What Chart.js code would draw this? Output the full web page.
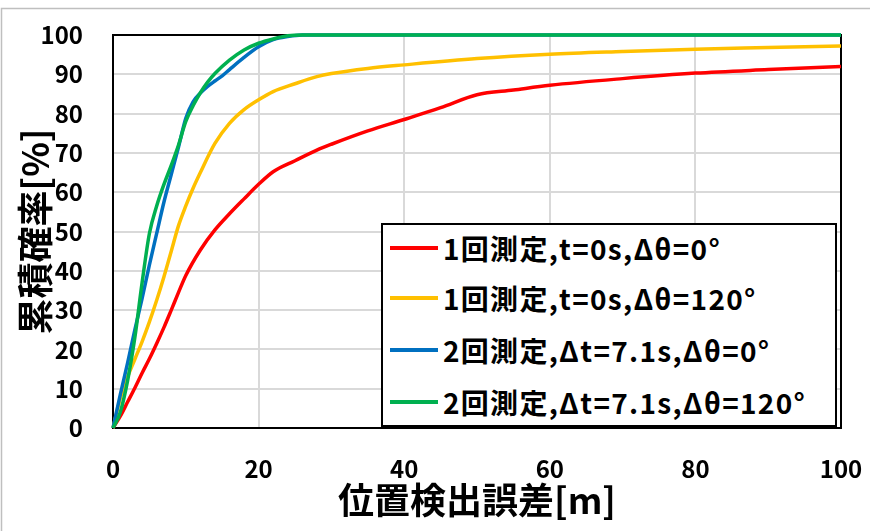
<!DOCTYPE html>
<html><head><meta charset="utf-8">
<script src="https://cdn.jsdelivr.net/npm/chart.js@4"></script>
<style>
html,body{margin:0;padding:0;background:#fff;}
#wrap{position:relative;width:870px;height:531px;overflow:hidden;}
#legend{position:absolute;left:381px;top:223px;width:452px;height:200px;border:2px solid #000;background:#fff;font-family:"Noto Sans CJK JP",sans-serif;font-weight:bold;font-size:28px;color:#000;letter-spacing:1.3px;}
.row{position:absolute;left:0;height:40px;display:flex;align-items:center;white-space:nowrap;}
.sw{width:48px;height:4px;margin-left:7px;margin-right:5px;}
</style></head>
<body>
<div id="wrap">
<canvas id="c" width="870" height="531"></canvas>
<div id="legend"></div>
</div>
<script>
const seriesLabels = ['1回測定,t=0s,Δθ=0°','1回測定,t=0s,Δθ=120°','2回測定,Δt=7.1s,Δθ=0°','2回測定,Δt=7.1s,Δθ=120°'];
const xTitle = '位置検出誤差[m]';
const yTitle = '累積確率[%]';

const xRed = [0,1,2,3,4,5,6,7,8,9,10,12,14,16,18,20,22,25,28,30,35,40,45,50,55,60,70,80,90,100];
const yRed = [0,3,6.6,10.2,14,17.6,21.5,25.6,30,34.5,38.8,45.3,50.4,54.5,58.3,62,65.2,68,70.7,72.2,75.6,78.5,81.5,84.8,86,87.2,88.9,90.3,91.2,92];

const xYellow = [0,1,2,3,4,5,6,7,8,9,10,11,12,14,16,18,20,22,25,28,30,35,40,50,60,70,80,90,100];
const yYellow = [0,7.5,13,17.5,22,27,32.5,38.5,45,51.5,56.5,61,65,72.4,77.5,81,83.5,85.6,87.6,89.4,90.2,91.5,92.4,94,95.1,95.8,96.4,96.8,97.2];

const xBlue = [0,1,2,3,4,5,6,7,8,9,10,11,12,13,14,15,16,18,20,22,24,26,100];
const yBlue = [0,8.5,16.5,25,33,41.5,49.5,57.5,64.5,71.5,78.8,83,85.2,86.9,88.3,89.6,91.2,94.3,97,98.8,99.6,100,100];

const xGreen = [0,1,2,3,4,5,6,7,8,9,10,11,12,13,14,16,18,20,22,24,26,100];
const yGreen = [0,4,12,23,37,49.5,56.5,62,66.8,72,78,82,85.3,88,90.2,93.6,96.2,97.9,99,99.8,100,100];

const colors = ['#ff0000','#ffc000','#0070c0','#00b050'];
const FAM = '"Noto Sans CJK JP", sans-serif';

function pts(xs, ys){ return xs.map((x,i)=>({x:x, y:ys[i]})); }
function ds(i, xs, ys){
  return {label:seriesLabels[i], data:pts(xs,ys), borderColor:colors[i], backgroundColor:colors[i],
    borderWidth:3.5, pointRadius:0, cubicInterpolationMode:'monotone', fill:false, clip:false,
    order: 3 - i};
}

const frame = {
  id:'frame',
  beforeDraw(c){
    const g=c.ctx; g.save();
    g.strokeStyle='#bfbfbf'; g.lineWidth=1.5; g.strokeRect(1.5,8.5,900,600);
    g.restore();
  },
  beforeDatasetsDraw(c){
    const g=c.ctx; const a=c.chartArea; g.save();
    g.strokeStyle='#000'; g.lineWidth=2;
    g.strokeRect(a.left,a.top,a.right-a.left,a.bottom-a.top);
    g.restore();
  }
};

const chart = new Chart(document.getElementById('c'), {
  type:'line',
  data:{datasets:[ds(0,xRed,yRed), ds(1,xYellow,yYellow), ds(2,xBlue,yBlue), ds(3,xGreen,yGreen)]},
  options:{
    responsive:false, animation:false, devicePixelRatio:1,
    layout:{padding:{left:0,right:29,top:35,bottom:0}},
    plugins:{legend:{display:false}, tooltip:{enabled:false}},
    scales:{
      x:{type:'linear', min:0, max:100,
        ticks:{stepSize:20, padding:26, color:'#000', font:{family:FAM, size:24, weight:'bold'}, maxRotation:0},
        grid:{color:'#d9d9d9', lineWidth:2, drawTicks:false},
        border:{display:false},
        title:{display:true, text:xTitle, color:'#000', font:{family:FAM, size:36, weight:'bold'}, padding:{top:0,bottom:9}},
        afterFit(s){ s.height=103; s.paddingLeft=0; s.paddingRight=0; }
      },
      y:{type:'linear', min:0, max:100,
        ticks:{stepSize:10, padding:30, color:'#000', font:{family:FAM, size:24, weight:'bold'}},
        grid:{color:'#d9d9d9', lineWidth:2, drawTicks:false},
        border:{display:false},
        title:{display:true, text:yTitle, color:'#000', font:{family:FAM, size:36, weight:'bold'}, padding:{top:14,bottom:0}},
        afterFit(s){ s.width=113; s.paddingTop=0; s.paddingBottom=0; }
      }
    }
  },
  plugins:[frame]
});

// HTML legend built from the chart's own legend items, in dataset order
const items = Chart.defaults.plugins.legend.labels.generateLabels(chart)
  .sort((a,b)=>a.datasetIndex-b.datasetIndex);
const leg = document.getElementById('legend');
const centers = [23,73,125,177];
items.forEach((it,i)=>{
  const row=document.createElement('div'); row.className='row'; row.style.top=(centers[i]-20)+'px';
  const sw=document.createElement('span'); sw.className='sw'; sw.style.background=it.strokeStyle;
  const tx=document.createElement('span'); tx.textContent=it.text;
  row.appendChild(sw); row.appendChild(tx); leg.appendChild(row);
});
</script>
</body></html>
